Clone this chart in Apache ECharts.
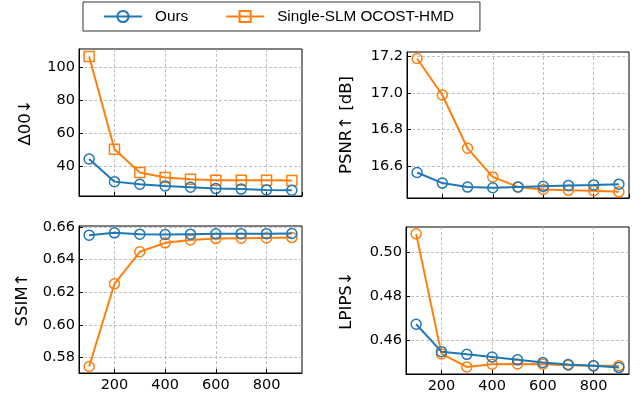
<!DOCTYPE html>
<html><head><meta charset="utf-8">
<script src="https://cdn.jsdelivr.net/npm/echarts@6/dist/echarts.min.js"></script>
<style>html,body{margin:0;padding:0;background:#fff}#c{width:643px;height:396px}</style>
</head><body><div id="c"></div>
<script>
const iterations = [100, 200, 300, 400, 500, 600, 700, 800, 900];
const seriesNames = ['Ours', 'Single-SLM OCOST-HMD'];
const deltaOurs = [44.2, 30.5, 28.9, 27.9, 27.1, 26.3, 26.0, 25.5, 25.3];
const deltaSingle = [106.3, 50.1, 36.0, 33.0, 32.0, 31.4, 31.4, 31.4, 31.2];
const psnrOurs = [16.564, 16.506, 16.484, 16.480, 16.484, 16.488, 16.493, 16.496, 16.500];
const psnrSingle = [17.190, 16.990, 16.697, 16.540, 16.485, 16.471, 16.466, 16.464, 16.458];
const ssimOurs = [0.6549, 0.6563, 0.6555, 0.6553, 0.6555, 0.6557, 0.6558, 0.6558, 0.6559];
const ssimSingle = [0.5745, 0.6251, 0.6447, 0.6502, 0.6520, 0.6528, 0.6530, 0.6532, 0.6534];
const lpipsOurs = [0.4674, 0.4550, 0.4538, 0.4526, 0.4513, 0.4501, 0.4492, 0.4486, 0.4478];
const lpipsSingle = [0.5083, 0.4540, 0.4481, 0.4493, 0.4494, 0.4493, 0.4489, 0.4486, 0.4486];
const yNames = ['Δ00↓', 'PSNR↑ [dB]', 'SSIM↑', 'LPIPS↓'];

const blue = '#1f77b4', orange = '#ff7f0e';
const grids = [
  {left: 79, top: 49, width: 223, height: 147},
  {left: 407, top: 52, width: 222, height: 146},
  {left: 79, top: 226, width: 223, height: 147},
  {left: 406, top: 227, width: 223, height: 147}
];
const yCfg = [
  {min: 21.8, max: 110.8, step: 20, dec: 0, gap: 45},
  {min: 16.424, max: 17.226, step: 0.2, dec: 1, gap: 52},
  {min: 0.5705, max: 0.6605, step: 0.02, dec: 2, gap: 48},
  {min: 0.4449, max: 0.5114, step: 0.02, dec: 2, gap: 51}
];
const ours = [deltaOurs, psnrOurs, ssimOurs, lpipsOurs];
const single = [deltaSingle, psnrSingle, ssimSingle, lpipsSingle];

const tickFont = {fontFamily: 'DejaVu Sans', fontSize: 14.5, color: '#000'};
const splitStyle = {show: true, showMinLine: false, showMaxLine: false,
  lineStyle: {color: '#b0b0b0', type: [3, 2], width: 0.8}};
const xAxes = [], yAxes = [], series = [];
grids.forEach((g, i) => {
  g.show = true; g.borderColor = '#000'; g.borderWidth = 1; g.containLabel = false;
  xAxes.push({
    type: 'value', gridIndex: i, min: 60, max: 940, minInterval: 200, maxInterval: 200,
    axisLine: {show: true, lineStyle: {color: '#000', width: 1}},
    axisTick: {show: true, inside: true, length: 4, lineStyle: {color: '#000'}},
    axisLabel: {show: i >= 2, margin: 5, showMinLabel: false, showMaxLabel: false, ...tickFont},
    splitLine: splitStyle
  });
  const c = yCfg[i];
  yAxes.push({
    type: 'value', gridIndex: i, min: c.min, max: c.max, minInterval: c.step, maxInterval: c.step,
    name: yNames[i], nameLocation: 'middle', nameRotate: 90, nameGap: c.gap,
    nameTextStyle: {fontFamily: 'DejaVu Sans', fontSize: 16.5, color: '#000'},
    axisLine: {show: true, lineStyle: {color: '#000', width: 1}},
    axisTick: {show: true, inside: true, length: 4, lineStyle: {color: '#000'}},
    axisLabel: {margin: 4, showMinLabel: false, showMaxLabel: false, ...tickFont,
      formatter: v => v.toFixed(c.dec)},
    splitLine: splitStyle
  });
  series.push({
    name: seriesNames[0], type: 'line', xAxisIndex: i, yAxisIndex: i,
    data: iterations.map((x, k) => [x, ours[i][k]]),
    symbol: 'circle', symbolSize: 10,
    lineStyle: {color: blue, width: 2},
    itemStyle: {color: 'rgba(255,255,255,0)', borderColor: blue, borderWidth: 1.5},
    emphasis: {disabled: true}, z: 3
  });
  series.push({
    name: seriesNames[1], type: 'line', xAxisIndex: i, yAxisIndex: i,
    data: iterations.map((x, k) => [x, single[i][k]]),
    symbol: i === 0 ? 'rect' : 'circle', symbolSize: 10,
    lineStyle: {color: orange, width: 2},
    itemStyle: {color: 'rgba(255,255,255,0)', borderColor: orange, borderWidth: 1.5},
    emphasis: {disabled: true}, z: 2
  });
});

const chart = echarts.init(document.getElementById('c'), null, {renderer: 'canvas'});
chart.setOption({
  animation: false,
  backgroundColor: '#fff',
  legend: {
    left: 83, top: 2, padding: [7, 26, 7, 20], itemGap: 37, itemWidth: 38, itemHeight: 14,
    borderColor: '#333', borderWidth: 1,
    textStyle: {fontFamily: 'Liberation Sans', fontSize: 15.3, color: '#000', padding: [0, 0, 0, 8]},
    data: seriesNames
  },
  grid: grids, xAxis: xAxes, yAxis: yAxes, series: series
});
</script></body></html>
